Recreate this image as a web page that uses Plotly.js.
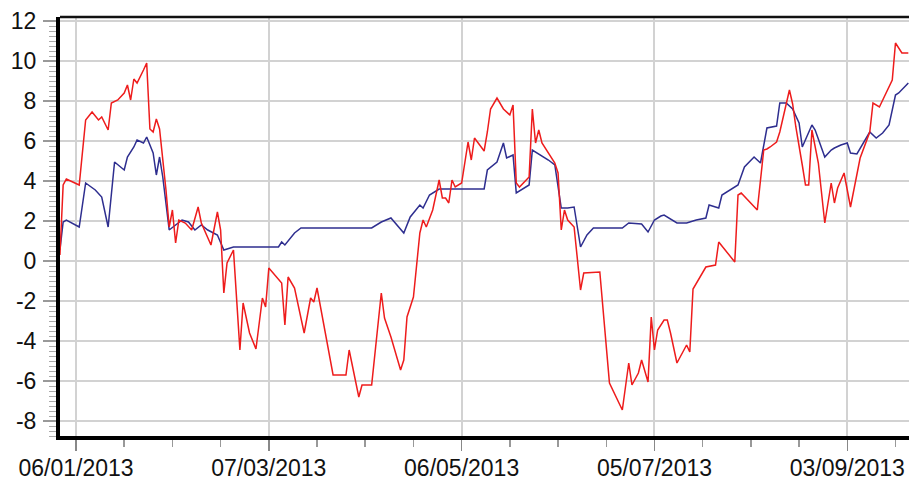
<!DOCTYPE html>
<html>
<head>
<meta charset="utf-8">
<script src="https://cdn.plot.ly/plotly-3.0.1.min.js"></script>
<style>html,body{margin:0;padding:0;background:#fff;}#chart{width:909px;height:483px;}</style>
</head>
<body>
<div id="chart"></div>
<script>
const redDates = ["2013-01-01","2013-01-02","2013-01-03","2013-01-06","2013-01-07","2013-01-09","2013-01-11","2013-01-13","2013-01-14","2013-01-16","2013-01-17","2013-01-19","2013-01-21","2013-01-22","2013-01-23","2013-01-24","2013-01-25","2013-01-27","2013-01-28","2013-01-29","2013-01-30","2013-01-31","2013-02-01","2013-02-03","2013-02-04","2013-02-05","2013-02-06","2013-02-07","2013-02-09","2013-02-11","2013-02-13","2013-02-14","2013-02-16","2013-02-17","2013-02-19","2013-02-20","2013-02-21","2013-02-22","2013-02-24","2013-02-26","2013-02-27","2013-03-01","2013-03-03","2013-03-05","2013-03-06","2013-03-07","2013-03-11","2013-03-12","2013-03-13","2013-03-15","2013-03-18","2013-03-20","2013-03-21","2013-03-22","2013-03-27","2013-03-31","2013-04-01","2013-04-04","2013-04-05","2013-04-08","2013-04-11","2013-04-12","2013-04-14","2013-04-17","2013-04-18","2013-04-19","2013-04-21","2013-04-23","2013-04-24","2013-04-25","2013-04-27","2013-04-29","2013-04-30","2013-05-01","2013-05-02","2013-05-03","2013-05-04","2013-05-06","2013-05-08","2013-05-09","2013-05-10","2013-05-13","2013-05-14","2013-05-15","2013-05-17","2013-05-19","2013-05-21","2013-05-22","2013-05-23","2013-05-24","2013-05-27","2013-05-28","2013-05-29","2013-05-30","2013-05-31","2013-06-03","2013-06-04","2013-06-05","2013-06-06","2013-06-07","2013-06-08","2013-06-10","2013-06-12","2013-06-13","2013-06-18","2013-06-21","2013-06-25","2013-06-27","2013-06-28","2013-06-30","2013-07-01","2013-07-03","2013-07-04","2013-07-05","2013-07-06","2013-07-08","2013-07-09","2013-07-10","2013-07-12","2013-07-15","2013-07-16","2013-07-17","2013-07-21","2013-07-24","2013-07-25","2013-07-30","2013-07-31","2013-08-01","2013-08-06","2013-08-08","2013-08-09","2013-08-10","2013-08-12","2013-08-13","2013-08-14","2013-08-16","2013-08-17","2013-08-18","2013-08-20","2013-08-21","2013-08-22","2013-08-23","2013-08-25","2013-08-27","2013-08-29","2013-08-30","2013-08-31","2013-09-02","2013-09-04","2013-09-06","2013-09-07","2013-09-10","2013-09-11","2013-09-13","2013-09-17","2013-09-18","2013-09-20","2013-09-22"];
const redValues = [0.3,3.8,4.1,3.9,3.8,7.05,7.45,7.05,7.2,6.55,7.9,8.05,8.4,8.8,8.05,9.1,8.9,9.55,9.9,6.6,6.45,7.1,6.6,3.55,1.7,2.55,0.9,2.05,1.9,1.55,2.7,1.9,1.2,0.8,2.45,1.55,-1.6,-0.1,0.55,-4.45,-2.1,-3.6,-4.4,-1.85,-2.3,-0.35,-1.1,-3.2,-0.8,-1.35,-3.6,-1.85,-2.05,-1.35,-5.7,-5.7,-4.45,-6.8,-6.2,-6.2,-1.6,-2.85,-3.8,-5.45,-4.95,-2.8,-1.8,1.4,2.05,1.7,2.55,4.05,3.15,3.15,2.9,4.05,3.7,3.9,5.95,5.05,6.15,5.5,6.45,7.6,8.15,7.6,7.3,7.8,3.9,3.7,4.2,7.6,5.9,6.55,5.9,5.15,4.9,4.4,1.55,2.55,2.05,1.7,-1.45,-0.6,-0.55,-6.1,-7.45,-5.1,-6.2,-5.6,-4.95,-6.05,-2.8,-4.45,-3.45,-2.95,-2.95,-3.6,-5.1,-4.2,-4.55,-1.4,-0.3,-0.2,0.95,-0.05,3.3,3.4,2.55,5.55,5.6,5.7,5.95,6.45,7.2,8.55,7.85,6.7,4.8,3.8,3.8,6.55,4.9,1.9,3.9,2.9,3.65,4.4,2.7,4.4,5.15,6.45,7.9,7.7,9.05,10.9,10.4,10.4];

const blueDates = ["2013-01-01","2013-01-02","2013-01-03","2013-01-07","2013-01-09","2013-01-12","2013-01-14","2013-01-16","2013-01-18","2013-01-19","2013-01-21","2013-01-22","2013-01-24","2013-01-25","2013-01-27","2013-01-28","2013-01-30","2013-01-31","2013-02-01","2013-02-02","2013-02-04","2013-02-08","2013-02-10","2013-02-12","2013-02-14","2013-02-16","2013-02-18","2013-02-19","2013-02-21","2013-02-24","2013-03-10","2013-03-11","2013-03-12","2013-03-15","2013-03-17","2013-04-08","2013-04-11","2013-04-14","2013-04-18","2013-04-20","2013-04-23","2013-04-24","2013-04-26","2013-04-29","2013-05-13","2013-05-14","2013-05-17","2013-05-19","2013-05-20","2013-05-22","2013-05-23","2013-05-27","2013-05-28","2013-05-29","2013-06-02","2013-06-04","2013-06-06","2013-06-08","2013-06-10","2013-06-12","2013-06-14","2013-06-16","2013-06-25","2013-06-27","2013-07-01","2013-07-03","2013-07-05","2013-07-07","2013-07-08","2013-07-12","2013-07-15","2013-07-18","2013-07-21","2013-07-22","2013-07-25","2013-07-26","2013-07-29","2013-07-31","2013-08-02","2013-08-05","2013-08-07","2013-08-09","2013-08-12","2013-08-13","2013-08-15","2013-08-17","2013-08-19","2013-08-20","2013-08-23","2013-08-24","2013-08-27","2013-08-29","2013-08-30","2013-09-01","2013-09-03","2013-09-04","2013-09-06","2013-09-08","2013-09-10","2013-09-12","2013-09-14","2013-09-16","2013-09-18","2013-09-19","2013-09-22"];
const blueValues = [0.55,1.95,2.05,1.7,3.9,3.55,3.2,1.7,4.95,4.8,4.55,5.2,5.7,6.05,5.9,6.2,5.4,4.3,5.2,4.2,1.55,2.05,1.95,1.55,1.8,1.55,1.4,1.3,0.55,0.7,0.7,0.95,0.8,1.4,1.65,1.65,1.95,2.15,1.4,2.2,2.8,2.65,3.3,3.6,3.6,4.55,4.95,5.9,5.15,5.3,3.4,3.8,5.55,5.45,5.05,4.8,2.65,2.65,2.7,0.7,1.3,1.65,1.65,1.9,1.85,1.45,2.05,2.25,2.3,1.9,1.9,2.05,2.15,2.8,2.65,3.3,3.6,3.8,4.7,5.2,4.9,6.65,6.75,7.9,7.9,7.6,6.9,5.7,6.8,6.55,5.2,5.55,5.65,5.8,5.9,5.4,5.35,5.9,6.45,6.15,6.4,6.8,8.3,8.4,8.9];

const yTickValues = [-8, -6, -4, -2, 0, 2, 4, 6, 8, 10, 12];
const yTickLabels = yTickValues.map(v => String(v));
const xTickStart = "2013-01-06";
const dateFormat = "%d/%m/%Y";

const DAY = 86400000;
const traces = [
  {x: blueDates, y: blueValues, type: "scatter", mode: "lines",
   line: {color: "#2e2e8f", width: 1.5}, hoverinfo: "skip"},
  {x: redDates, y: redValues, type: "scatter", mode: "lines",
   line: {color: "#ee1c1c", width: 1.5}, hoverinfo: "skip"}
];

const layout = {
  width: 909, height: 483,
  margin: {l: 60, r: 0, t: 17, b: 47, pad: 0},
  paper_bgcolor: "#ffffff", plot_bgcolor: "#ffffff",
  showlegend: false,
  font: {family: "Liberation Sans, Arial, sans-serif", size: 23, color: "#111"},
  xaxis: {
    type: "date",
    range: ["2013-01-01 00:30", "2013-09-22 05:00"],
    tick0: xTickStart, dtick: 60 * DAY,
    tickformat: dateFormat,
    showgrid: true, gridcolor: "#d2d2d2", gridwidth: 2,
    zeroline: false,
    showline: true, linecolor: "#000", linewidth: 4,
    ticks: "outside", ticklen: 11, tickwidth: 1.5, tickcolor: "#888",
    ticklabelstandoff: -3,
    minor: {tick0: xTickStart, dtick: 15 * DAY, ticks: "outside", ticklen: 7, tickwidth: 1.5, tickcolor: "#999", showgrid: false},
    fixedrange: true
  },
  yaxis: {
    range: [-8.75, 12.2],
    tickmode: "array", tickvals: yTickValues, ticktext: yTickLabels,
    showgrid: true, gridcolor: "#d2d2d2", gridwidth: 2,
    zeroline: false,
    showline: true, linecolor: "#000", linewidth: 4,
    ticks: "outside", ticklen: 13, tickwidth: 1.5, tickcolor: "#999",
    ticklabelstandoff: 2,
    minor: {tick0: 0, dtick: 0.25, ticks: "outside", ticklen: 7, tickwidth: 1, tickcolor: "#aaa", showgrid: false},
    fixedrange: true
  },
  shapes: [
    {type: "line", xref: "paper", yref: "paper", x0: 0, x1: 1, y0: 1, y1: 1,
     line: {color: "#111", width: 2.5}}
  ]
};

Plotly.newPlot("chart", traces, layout, {staticPlot: true, displayModeBar: false});
</script>
</body>
</html>
